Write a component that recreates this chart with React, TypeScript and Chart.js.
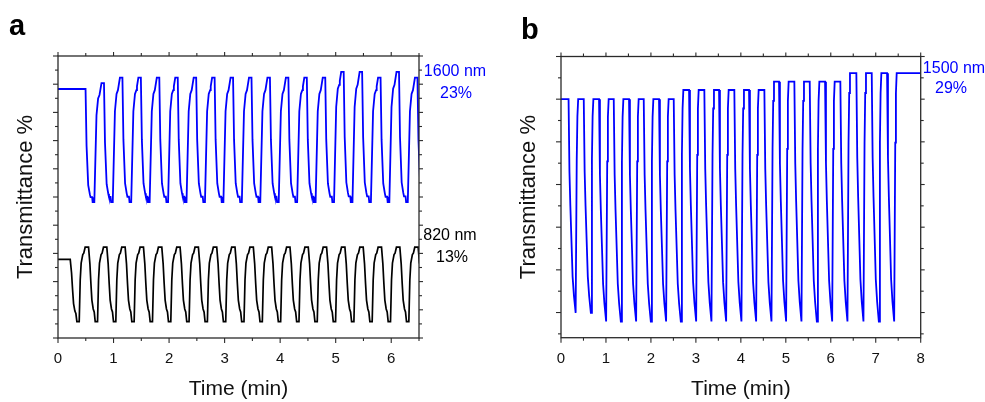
import React, { useEffect, useRef } from "react";
import { Chart, registerables } from "chart.js";

Chart.register(...registerables);

const FONT = "'Liberation Sans', Arial, Helvetica, sans-serif";
const BLUE = "#0000ff";

// ---------- Panel a ----------
const aXMax = 6.5;
const aXTicks = [0, 1, 2, 3, 4, 5, 6];
const aXMinor = [0.5, 1.5, 2.5, 3.5, 4.5, 5.5, 6.5];
const aYMajor = [0, 1, 2, 3, 4, 5, 6, 7, 8, 9, 10];
const aYMinor = [0.5, 1.5, 2.5, 3.5, 4.5, 5.5, 6.5, 7.5, 8.5, 9.5];

// 1600 nm (blue)
const blueABase = 8.83;
const blueADrops = [0.496, 0.828, 1.16, 1.492, 1.824, 2.156, 2.488, 2.82, 3.152, 3.484, 3.816, 4.148, 4.48, 4.812, 5.144, 5.476, 5.808, 6.14, 6.472];
const blueAPeaks = [9.04, 9.23, 9.23, 9.23, 9.23, 9.23, 9.23, 9.23, 9.23, 9.23, 9.23, 9.23, 9.23, 9.44, 9.44, 9.23, 9.44, 9.23, 9.23];
const blueATroughs = [4.82, 4.82, 4.82, 4.82, 4.82, 4.82, 4.82, 4.82, 4.82, 4.82, 4.82, 4.82, 4.82, 4.82, 4.82, 4.82, 4.82, 4.82, 4.82];
const blueADropShape = [[0, 1], [0.018, 0.5], [0.048, 0.15], [0.077, 0.07], [0.09, 0.043], [0.118, 0.043], [0.128, 0]];
const blueARiseShape = [[0.158, 0], [0.197, 0.73], [0.226, 0.87], [0.251, 0.9], [0.262, 0.93], [0.287, 1]];

// 820 nm (black)
const blackABase = 2.79;
const blackADrops = [0.22, 0.55, 0.879, 1.209, 1.539, 1.869, 2.198, 2.528, 2.858, 3.187, 3.517, 3.847, 4.177, 4.506, 4.836, 5.166, 5.495, 5.825, 6.155, 6.485];
const blackAPeaks = [3.22, 3.22, 3.22, 3.22, 3.22, 3.22, 3.22, 3.22, 3.22, 3.22, 3.22, 3.22, 3.22, 3.22, 3.22, 3.22, 3.22, 3.22, 3.22, 3.22];
const blackATroughs = [0.58, 0.58, 0.58, 0.58, 0.58, 0.58, 0.58, 0.58, 0.58, 0.58, 0.58, 0.58, 0.58, 0.58, 0.58, 0.58, 0.58, 0.58, 0.58, 0.58];
const blackADropShape = [[0, 1], [0.024, 0.78], [0.042, 0.52], [0.06, 0.29], [0.084, 0.17], [0.102, 0.13], [0.12, 0]];
const blackARiseShape = [[0.162, 0], [0.18, 0.56], [0.197, 0.785], [0.226, 0.9], [0.244, 0.92], [0.269, 1]];

// ---------- Panel b ----------
const bXMax = 8;
const bYMin = 0.41;
const bYMax = 7;
const bXTicks = [0, 1, 2, 3, 4, 5, 6, 7, 8];
const bXMinor = [0.5, 1.5, 2.5, 3.5, 4.5, 5.5, 6.5, 7.5];
const bYMajor = [1, 2, 3, 4, 5, 6, 7];
const bYMinor = [0.5, 1.5, 2.5, 3.5, 4.5, 5.5, 6.5];

// 1500 nm (blue)
const blueBBase = 6.0;
const blueBDrops = [0.168, 0.506, 0.846, 1.173, 1.513, 1.84, 2.18, 2.507, 2.848, 3.188, 3.515, 3.855, 4.182, 4.523, 4.849, 5.19, 5.532, 5.873, 6.213, 6.569, 6.911, 7.252];
const blueBPeaks = [6.0, 6.0, 6.0, 6.0, 6.0, 6.0, 6.0, 6.215, 6.215, 6.215, 6.215, 6.215, 6.215, 6.41, 6.41, 6.41, 6.41, 6.41, 6.61, 6.61, 6.61, 6.61];
const blueBTroughs = [0.99, 0.99, 0.79, 0.79, 0.79, 0.79, 0.79, 0.79, 0.79, 0.79, 0.79, 0.79, 0.79, 0.79, 0.79, 0.79, 0.79, 0.79, 0.79, 0.79, 0.79, 0.79];
const blueBDropShape = [[0, 1], [0.02, 0.66], [0.04, 0.5], [0.09, 0.17], [0.12, 0.08], [0.158, 0]];
const blueBRiseShape = [[0.165, 0], [0.182, 0.72], [0.197, 0.92], [0.214, 1]];

type Pt = { x: number; y: number };

function buildWave(
  base: number,
  drops: number[],
  troughs: number[],
  peaks: number[],
  dropShape: number[][],
  riseShape: number[][],
  xEnd: number
): Pt[] {
  const pts: Pt[] = [{ x: 0, y: base }];
  let prev = base;
  drops.forEach((t0, k) => {
    const lo = troughs[k];
    const hi = peaks[k];
    dropShape.forEach(([dt, f]) => pts.push({ x: t0 + dt, y: lo + f * (prev - lo) }));
    riseShape.forEach(([dt, f]) => pts.push({ x: t0 + dt, y: lo + f * (hi - lo) }));
    prev = hi;
  });
  const last = pts[pts.length - 1];
  if (last.x < xEnd) pts.push({ x: xEnd, y: prev });
  return pts;
}

type TextItem = { text: string; x: number; y: number; font: string; color: string; align: CanvasTextAlign };

function makeDecor(cfg: {
  xMajor: number[];
  xMinor: number[];
  yMajor: number[];
  yMinor: number[];
  texts: TextItem[];
}) {
  return {
    id: "decor",
    afterDraw(chart: any) {
      const { ctx, chartArea } = chart;
      const { left, right, top, bottom } = chartArea;
      const xs = chart.scales.x;
      const ys = chart.scales.y;
      ctx.save();
      ctx.strokeStyle = "#2a2a2a";
      ctx.lineWidth = 1.3;
      ctx.strokeRect(left, top, right - left, bottom - top);
      const seg = (x1: number, y1: number, x2: number, y2: number) => {
        ctx.beginPath();
        ctx.moveTo(x1, y1);
        ctx.lineTo(x2, y2);
        ctx.stroke();
      };
      ctx.lineWidth = 1.1;
      cfg.xMajor.forEach((v) => {
        const p = xs.getPixelForValue(v);
        seg(p, bottom, p, bottom + 5);
        seg(p, top, p, top - 4);
      });
      cfg.xMinor.forEach((v) => {
        const p = xs.getPixelForValue(v);
        seg(p, bottom, p, bottom + 3);
        seg(p, top, p, top - 3);
      });
      cfg.yMajor.forEach((v) => {
        const p = ys.getPixelForValue(v);
        seg(left, p, left - 5, p);
        seg(right, p, right + 4, p);
      });
      cfg.yMinor.forEach((v) => {
        const p = ys.getPixelForValue(v);
        seg(left, p, left - 3, p);
        seg(right, p, right + 3, p);
      });
      cfg.texts.forEach((t) => {
        ctx.font = t.font;
        ctx.fillStyle = t.color;
        ctx.textAlign = t.align;
        ctx.textBaseline = "alphabetic";
        ctx.fillText(t.text, t.x, t.y);
      });
      ctx.restore();
    },
  };
}

function makeOptions(p: {
  xMax: number;
  yMin: number;
  yMax: number;
  xTicks: number[];
  yAxisWidth: number;
  xAxisHeight: number;
  padTop: number;
  padRight: number;
  yTitlePad: number;
}): any {
  return {
    responsive: false,
    animation: false,
    events: [],
    layout: { padding: { left: 0, top: p.padTop, right: p.padRight, bottom: 0 } },
    plugins: { legend: { display: false }, tooltip: { enabled: false }, title: { display: false } },
    elements: { point: { radius: 0 }, line: { tension: 0 } },
    scales: {
      x: {
        type: "linear",
        min: 0,
        max: p.xMax,
        afterBuildTicks: (s: any) => {
          s.ticks = p.xTicks.map((v) => ({ value: v }));
        },
        afterFit: (s: any) => {
          s.height = p.xAxisHeight;
        },
        grid: { display: false, drawTicks: false },
        border: { display: false },
        ticks: {
          padding: 12,
          autoSkip: false,
          maxRotation: 0,
          color: "#111",
          font: { family: FONT, size: 15, lineHeight: 1.2 },
          callback: (v: number) => String(v),
        },
        title: {
          display: true,
          text: "Time (min)",
          color: "#111",
          font: { family: FONT, size: 21, lineHeight: 1.2 },
          padding: { top: 0, bottom: 0 },
        },
      },
      y: {
        type: "linear",
        min: p.yMin,
        max: p.yMax,
        afterFit: (s: any) => {
          s.width = p.yAxisWidth;
        },
        grid: { display: false, drawTicks: false },
        border: { display: false },
        ticks: { display: false },
        title: {
          display: true,
          text: "Transmittance %",
          color: "#111",
          font: { family: FONT, size: 22, lineHeight: 1.2 },
          padding: { top: p.yTitlePad, bottom: 0 },
        },
      },
    },
  };
}

export default function App() {
  const refA = useRef<HTMLCanvasElement>(null);
  const refB = useRef<HTMLCanvasElement>(null);

  useEffect(() => {
    const blueA = buildWave(blueABase, blueADrops, blueATroughs, blueAPeaks, blueADropShape, blueARiseShape, aXMax);
    const blackA = buildWave(blackABase, blackADrops, blackATroughs, blackAPeaks, blackADropShape, blackARiseShape, aXMax);
    const blueB = buildWave(blueBBase, blueBDrops, blueBTroughs, blueBPeaks, blueBDropShape, blueBRiseShape, bXMax);

    const labelFont = `16px ${FONT}`;
    const letterFont = `bold 29px ${FONT}`;

    const chartA = new Chart(refA.current as HTMLCanvasElement, {
      type: "line",
      data: {
        datasets: [
          { label: "820 nm", data: blackA, borderColor: "#000", borderWidth: 1.7, pointRadius: 0, fill: false },
          { label: "1600 nm", data: blueA, borderColor: BLUE, borderWidth: 1.8, pointRadius: 0, fill: false },
        ],
      },
      options: makeOptions({
        xMax: aXMax,
        yMin: 0,
        yMax: 10,
        xTicks: aXTicks,
        yAxisWidth: 58,
        xAxisHeight: 64,
        padTop: 56,
        padRight: 76,
        yTitlePad: 13,
      }),
      plugins: [
        makeDecor({
          xMajor: aXTicks,
          xMinor: aXMinor,
          yMajor: aYMajor,
          yMinor: aYMinor,
          texts: [
            { text: "a", x: 9, y: 35, font: letterFont, color: "#000", align: "left" },
            { text: "1600 nm", x: 455, y: 76, font: labelFont, color: BLUE, align: "center" },
            { text: "23%", x: 456, y: 98, font: labelFont, color: BLUE, align: "center" },
            { text: "820 nm", x: 450, y: 240, font: labelFont, color: "#000", align: "center" },
            { text: "13%", x: 452, y: 262, font: labelFont, color: "#000", align: "center" },
          ],
        }),
      ],
    } as any);

    const chartB = new Chart(refB.current as HTMLCanvasElement, {
      type: "line",
      data: {
        datasets: [
          { label: "1500 nm", data: blueB, borderColor: BLUE, borderWidth: 1.8, pointRadius: 0, fill: false },
        ],
      },
      options: makeOptions({
        xMax: bXMax,
        yMin: bYMin,
        yMax: bYMax,
        xTicks: bXTicks,
        yAxisWidth: 66,
        xAxisHeight: 64.3,
        padTop: 56.5,
        padRight: 64.3,
        yTitlePad: 21,
      }),
      plugins: [
        makeDecor({
          xMajor: bXTicks,
          xMinor: bXMinor,
          yMajor: bYMajor,
          yMinor: bYMinor,
          texts: [
            { text: "b", x: 26, y: 39, font: letterFont, color: "#000", align: "left" },
            { text: "1500 nm", x: 459, y: 72.5, font: labelFont, color: BLUE, align: "center" },
            { text: "29%", x: 456, y: 93, font: labelFont, color: BLUE, align: "center" },
          ],
        }),
      ],
    } as any);

    return () => {
      chartA.destroy();
      chartB.destroy();
    };
  }, []);

  return (
    <div style={{ position: "fixed", left: 0, top: 0, width: 985, height: 402, background: "#fff" }}>
      <canvas
        ref={refA}
        width={495}
        height={402}
        style={{ position: "absolute", left: 0, top: 0, width: 495, height: 402 }}
      />
      <canvas
        ref={refB}
        width={490}
        height={402}
        style={{ position: "absolute", left: 495, top: 0, width: 490, height: 402 }}
      />
    </div>
  );
}
